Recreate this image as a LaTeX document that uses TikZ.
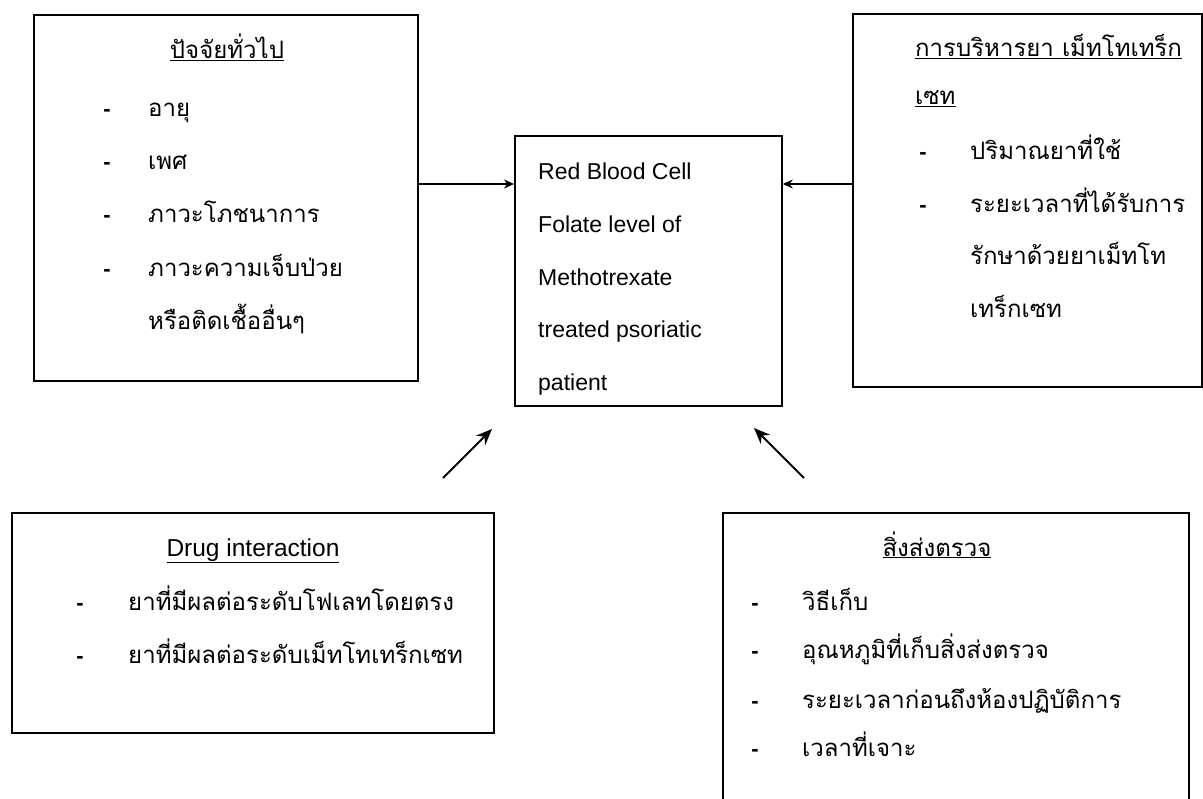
\documentclass[tikz,border=0pt]{standalone}
\usepackage{fontspec}
\setmainfont{Liberation Sans}
\newfontfamily\thaifont[Script=Thai]{Loma}
\usetikzlibrary{arrows.meta,calc}
\begin{document}
\begin{tikzpicture}[x=1pt,y=-1pt,
  box/.style={draw,line width=1.8pt,rectangle,inner sep=0pt,anchor=north west},
  th/.style={font=\thaifont\fontsize{24}{28}\selectfont,inner sep=0pt,anchor=base west},
  thc/.style={font=\thaifont\fontsize{24}{28}\selectfont,inner sep=0pt,anchor=base},
  en/.style={font=\fontsize{23}{28}\selectfont,inner sep=0pt,anchor=base west},
  enc/.style={font=\fontsize{24.5}{28}\selectfont,inner sep=0pt,anchor=base},
  dashmark/.style={font=\bfseries\fontsize{22}{24}\selectfont,inner sep=0pt,anchor=base},
  arr/.style={line width=1.5pt,-{Stealth[length=10pt,width=9pt]}},
  arrd/.style={line width=2pt,-{Stealth[length=16pt,width=13pt]}}]
\useasboundingbox (0,0) rectangle (1203,799);
% boxes
\node[box,minimum width=384pt,minimum height=366pt] (tl) at (33,14) {};
\node[box,minimum width=349pt,minimum height=373pt] (tr) at (852,13) {};
\node[box,minimum width=267pt,minimum height=270pt] (cn) at (514,135) {};
\node[box,minimum width=482pt,minimum height=220pt] (bl) at (11,512) {};
\node[box,minimum width=466pt,minimum height=295pt] (br) at (722,512) {};
% top-left text
\node[thc] (tlt) at (227,59) {\underline{ปัจจัยทั่วไป}};
\node[dashmark] (tld1) at (107,117) {-};
\node[dashmark] (tld2) at (107,170) {-};
\node[dashmark] (tld3) at (107,223) {-};
\node[dashmark] (tld4) at (107,277) {-};
\node[th] (tl1) at (148,117) {อายุ};
\node[th] (tl2) at (148,170) {เพศ};
\node[th] (tl3) at (148,223) {ภาวะโภชนาการ};
\node[th] (tl4) at (148,277) {ภาวะความเจ็บป่วย};
\node[th] (tl5) at (148,330) {หรือติดเชื้ออื่นๆ};
% top-right text
\node[th] (trt) at (915,57) {\underline{การบริหารยา เม็ทโทเทร็ก}};
\node[th] (trt2) at (915,105) {\underline{เซท}};
\node[dashmark] (trd1) at (923,160) {-};
\node[dashmark] (trd2) at (923,213) {-};
\node[th] (tr1) at (970,160) {ปริมาณยาที่ใช้};
\node[th] (tr2) at (970,213) {ระยะเวลาที่ได้รับการ};
\node[th] (tr3) at (970,265) {รักษาด้วยยาเม็ทโท};
\node[th] (tr4) at (970,318) {เทร็กเซท};
% centre text
\node[en] (c1) at (538,180) {Red Blood Cell};
\node[en] (c2) at (538,233) {Folate level of};
\node[en] (c3) at (538,286) {Methotrexate};
\node[en] (c4) at (538,338) {treated psoriatic};
\node[en] (c5) at (538,391) {patient};
% bottom-left text
\node[enc] (blt) at (253,556) {\underline{Drug interaction}};
\node[dashmark] (bld1) at (80,610) {-};
\node[dashmark] (bld2) at (80,663) {-};
\node[th] (bl1) at (128,610) {ยาที่มีผลต่อระดับโฟเลทโดยตรง};
\node[th] (bl2) at (128,663) {ยาที่มีผลต่อระดับเม็ทโทเทร็กเซท};
% bottom-right text
\node[thc] (brt) at (937,556) {\underline{สิ่งส่งตรวจ}};
\node[dashmark] (brd1) at (755,610) {-};
\node[dashmark] (brd2) at (755,658) {-};
\node[dashmark] (brd3) at (755,708) {-};
\node[dashmark] (brd4) at (755,756) {-};
\node[th] (br1) at (802,610) {วิธีเก็บ};
\node[th] (br2) at (802,658) {อุณหภูมิที่เก็บสิ่งส่งตรวจ};
\node[th] (br3) at (802,708) {ระยะเวลาก่อนถึงห้องปฏิบัติการ};
\node[th] (br4) at (802,756) {เวลาที่เจาะ};
% connectors
\coordinate (ylev) at (0,184);
\draw[arr] (tl.east |- ylev) -- (cn.west |- ylev);
\draw[arr] (tr.west |- ylev) -- (cn.east |- ylev);
\coordinate (ls) at (443,478);
\coordinate (le) at (492,429);
\coordinate (rs) at (804,478);
\coordinate (re) at (754,428);
\draw[arrd] (ls) -- (le);
\draw[arrd] (rs) -- (re);
\end{tikzpicture}
\end{document}
